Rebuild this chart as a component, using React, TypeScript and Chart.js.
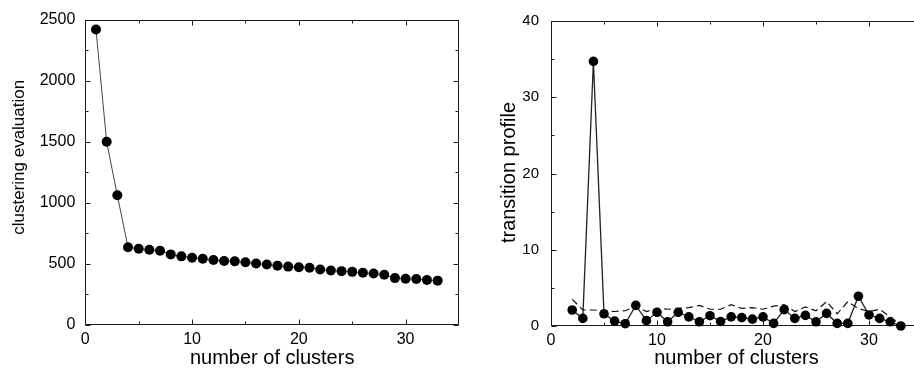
import React, { useEffect, useRef } from "react";
import { Chart, registerables } from "chart.js";

Chart.register(...registerables);

// ---- Data ----
const clusterCounts = [
  1, 2, 3, 4, 5, 6, 7, 8, 9, 10, 11, 12, 13, 14, 15, 16, 17, 18, 19, 20, 21, 22,
  23, 24, 25, 26, 27, 28, 29, 30, 31, 32, 33,
];
const clusteringEvaluation = [
  2419, 1500, 1062, 637, 624, 616, 608, 578, 562, 551, 543, 532, 524, 521, 513,
  503, 495, 486, 478, 473, 468, 454, 446, 441, 435, 427, 422, 411, 384, 379, 376,
  368, 363,
];

const transitionCounts = [
  2, 3, 4, 5, 6, 7, 8, 9, 10, 11, 12, 13, 14, 15, 16, 17, 18, 19, 20, 21, 22, 23,
  24, 25, 26, 27, 28, 29, 30, 31, 32, 33,
];
const transitionProfile = [
  2.1, 1.0, 34.7, 1.6, 0.65, 0.3, 2.7, 0.7, 1.8, 0.55, 1.8, 1.2, 0.55, 1.35, 0.6,
  1.2, 1.1, 0.9, 1.2, 0.35, 2.15, 1.0, 1.4, 0.55, 1.65, 0.35, 0.35, 3.9, 1.45,
  1.0, 0.55, 0,
];
const transitionReference = [
  3.5, 2.1, 2.1, 2.0, 1.9, 2.0, 2.6, 1.9, 2.3, 2.2, 2.3, 2.4, 2.7, 2.2, 2.2, 2.8,
  2.3, 2.4, 2.2, 2.6, 2.8, 1.9, 2.5, 2.0, 3.2, 1.6, 3.2, 2.3, 1.9, 2.2, 1.2, 0.1,
];

// ---- Ticks ----
const xMajorTicks = [0, 10, 20, 30];
const xMinorTicks = [5, 15, 25];
const leftYMajorTicks = [0, 500, 1000, 1500, 2000, 2500];
const leftYMinorTicks = [250, 750, 1250, 1750, 2250];
const rightYMajorTicks = [0, 10, 20, 30, 40];
const rightYMinorTicks = [5, 15, 25, 35];

const FONT = "'Liberation Sans', Arial, sans-serif";

const framePlugin = {
  id: "frame",
  beforeDatasetsDraw(chart: any, _args: any, opts: any) {
    const { ctx, chartArea: a, scales } = chart;
    const xs = scales.x;
    const ys = scales.y;
    const L = Math.round(a.left) + 0.5;
    const R = Math.round(a.right) - 0.5;
    const T = Math.round(a.top) + 0.5;
    const B = Math.round(a.bottom) - 0.5;
    ctx.save();
    ctx.strokeStyle = "#1a1a1a";
    ctx.lineWidth = 1;
    ctx.beginPath();
    const majorLen = 5;
    const minorLen = 3;
    const xt = (vals: number[], len: number) => {
      vals.forEach((v) => {
        const p = Math.round(xs.getPixelForValue(v)) + 0.5;
        ctx.moveTo(p, B);
        ctx.lineTo(p, B - len);
        ctx.moveTo(p, T);
        ctx.lineTo(p, T + len);
      });
    };
    const yt = (vals: number[], len: number) => {
      vals.forEach((v) => {
        const p = Math.round(ys.getPixelForValue(v)) + 0.5;
        ctx.moveTo(L, p);
        ctx.lineTo(L + len, p);
        ctx.moveTo(R, p);
        ctx.lineTo(R - len, p);
      });
    };
    xt(opts.xMajor, majorLen);
    xt(opts.xMinor, minorLen);
    yt(opts.yMajor, majorLen);
    yt(opts.yMinor, minorLen);
    ctx.stroke();
    ctx.strokeRect(L, T, R - L, B - T);
    ctx.restore();
  },
  afterDraw(chart: any, _args: any, opts: any) {
    if (!opts.yTitle) return;
    const { ctx, chartArea: a } = chart;
    ctx.save();
    ctx.translate(opts.yTitleX, (a.top + a.bottom) / 2 + opts.yTitleShift);
    ctx.rotate(-Math.PI / 2);
    ctx.fillStyle = "#000";
    ctx.font = `${opts.yTitleSize}px ${FONT}`;
    ctx.textAlign = "center";
    ctx.textBaseline = "middle";
    ctx.fillText(opts.yTitle, 0, 0);
    ctx.restore();
  },
};

function makeConfig(p: {
  datasets: any[];
  yMax: number;
  yMajor: number[];
  yMinor: number[];
  yTitle: string;
  yTitleSize: number;
  yTitleX: number;
  yTitleShift: number;
  yWidth: number;
  xHeight: number;
  padding: any;
  yLabelPad: number;
  yTickSize: number;
  xTickSize: number;
}) {
  return {
    type: "line",
    data: { datasets: p.datasets },
    plugins: [framePlugin],
    options: {
      animation: false,
      responsive: false,
      parsing: false,
      layout: { padding: p.padding },
      plugins: {
        legend: { display: false },
        tooltip: { enabled: false },
        frame: {
          xMajor: xMajorTicks,
          xMinor: xMinorTicks,
          yMajor: p.yMajor,
          yMinor: p.yMinor,
          yTitle: p.yTitle,
          yTitleSize: p.yTitleSize,
          yTitleX: p.yTitleX,
          yTitleShift: p.yTitleShift,
        },
      },
      scales: {
        x: {
          type: "linear",
          min: 0,
          max: 35,
          afterBuildTicks: (s: any) => {
            s.ticks = xMajorTicks.map((v) => ({ value: v }));
          },
          afterFit: (s: any) => {
            s.height = p.xHeight;
          },
          grid: { display: false, drawTicks: false },
          border: { display: false },
          ticks: {
            padding: 5,
            maxRotation: 0,
            color: "#000",
            font: { family: FONT, size: p.xTickSize },
            callback: (v: any) => String(v),
          },
          title: {
            display: true,
            text: "number of clusters",
            color: "#000",
            font: { family: FONT, size: 20 },
            padding: { top: 0, bottom: 0 },
          },
        },
        y: {
          type: "linear",
          min: 0,
          max: p.yMax,
          afterBuildTicks: (s: any) => {
            s.ticks = p.yMajor.map((v) => ({ value: v }));
          },
          afterFit: (s: any) => {
            s.width = p.yWidth;
          },
          grid: { display: false, drawTicks: false },
          border: { display: false },
          ticks: {
            padding: p.yLabelPad,
            color: "#000",
            font: { family: FONT, size: p.yTickSize },
            callback: (v: any) => String(v),
          },
          title: { display: false },
        },
      },
    },
  } as any;
}

export default function App() {
  const leftRef = useRef<HTMLCanvasElement>(null);
  const rightRef = useRef<HTMLCanvasElement>(null);

  useEffect(() => {
    const leftData = clusterCounts.map((x, i) => ({ x, y: clusteringEvaluation[i] }));
    const profData = transitionCounts.map((x, i) => ({ x, y: transitionProfile[i] }));
    const refData = transitionCounts.map((x, i) => ({ x, y: transitionReference[i] }));

    const leftChart = new Chart(
      leftRef.current as HTMLCanvasElement,
      makeConfig({
        datasets: [
          {
            data: leftData,
            borderColor: "#444",
            borderWidth: 1,
            pointRadius: 5,
            pointBackgroundColor: "#000",
            pointBorderWidth: 0,
            clip: false,
          },
        ],
        yMax: 2500,
        yMajor: leftYMajorTicks,
        yMinor: leftYMinorTicks,
        yTitle: "clustering evaluation",
        yTitleSize: 17,
        yTitleX: 19,
        yTitleShift: -15,
        yWidth: 85.3,
        xHeight: 45,
        padding: { left: 0, top: 15, right: 6, bottom: 0 },
        yLabelPad: 10,
        yTickSize: 16,
        xTickSize: 16,
      })
    );

    const rightChart = new Chart(
      rightRef.current as HTMLCanvasElement,
      makeConfig({
        datasets: [
          {
            data: refData,
            borderColor: "#111",
            borderWidth: 1.2,
            borderDash: [7, 4],
            pointRadius: 0,
            clip: false,
          },
          {
            data: profData,
            borderColor: "#222",
            borderWidth: 1.3,
            pointRadius: 4.8,
            pointBackgroundColor: "#000",
            pointBorderWidth: 0,
            clip: false,
          },
        ],
        yMax: 40,
        yMajor: rightYMajorTicks,
        yMinor: rightYMinorTicks,
        yTitle: "transition profile",
        yTitleSize: 20,
        yTitleX: 29,
        yTitleShift: -1,
        yWidth: 71,
        xHeight: 44,
        padding: { left: 0, top: 18, right: 6, bottom: 0 },
        yLabelPad: 12,
        yTickSize: 15,
        xTickSize: 16,
      })
    );

    return () => {
      leftChart.destroy();
      rightChart.destroy();
    };
  }, []);

  return (
    <div
      style={{
        position: "fixed",
        left: 0,
        top: 0,
        width: 914,
        height: 370,
        overflow: "hidden",
        background: "#fff",
      }}
    >
      <canvas
        ref={leftRef}
        width={465}
        height={370}
        style={{ position: "absolute", left: 0, top: 0, width: 465, height: 370 }}
      />
      <canvas
        ref={rightRef}
        width={448}
        height={370}
        style={{ position: "absolute", left: 480, top: 0, width: 448, height: 370 }}
      />
    </div>
  );
}
